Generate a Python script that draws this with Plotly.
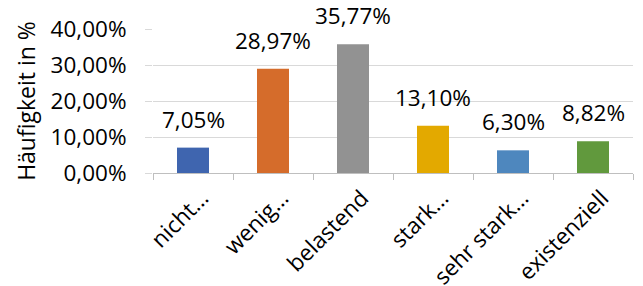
import plotly.graph_objects as go

categories = ["nicht…", "wenig…", "belastend", "stark…", "sehr stark…", "existenziell"]
values = [7.05, 28.97, 35.77, 13.10, 6.30, 8.82]
colors = ["#3F65AF", "#D56C2B", "#929292", "#E3A900", "#4E87BE", "#61993D"]
y_tickvals = [0, 10, 20, 30, 40]
y_ticktext = ["0,00%", "10,00%", "20,00%", "30,00%", "40,00%"]

labels = [f"{v:.2f}%".replace(".", ",") for v in values]

font_family = "Open Sans, Noto Sans, sans-serif"
fs = 22.5

fig = go.Figure(go.Bar(
    x=categories, y=values, marker_color=colors, marker_line_width=0,
    hoverinfo="skip",
))

for c, v, t in zip(categories, values, labels):
    fig.add_annotation(x=c, y=v, text=t, showarrow=False, yanchor="bottom",
                       yshift=11, font=dict(size=fs, color="#000000", family=font_family))

fig.update_layout(
    width=643, height=286,
    margin=dict(l=153, r=10, t=29, b=113),
    paper_bgcolor="white", plot_bgcolor="white",
    bargap=0.6, showlegend=False,
    font=dict(family=font_family, size=fs, color="#000000"),
)
fig.update_yaxes(
    range=[0, 40], tickvals=y_tickvals, ticktext=y_ticktext,
    showgrid=True, gridcolor="#D9D9D9", gridwidth=1,
    zeroline=False, showline=False, ticks="outside", ticklen=7, tickcolor="#D9D9D9",
    ticklabelstandoff=14, automargin=False,
    tickfont=dict(size=fs),
    title=dict(text="Häufigkeit in %", font=dict(size=23), standoff=8),
)
fig.update_xaxes(
    showline=True, linecolor="#BFBFBF", linewidth=1, automargin=False,
    tickangle=-45, ticks="outside", ticklen=6, tickcolor="#BFBFBF",
    tickson="boundaries", tickfont=dict(size=fs), ticklabelstandoff=2,
    ticklabelshift=9,
)

fig.write_html("out.html", config={"displayModeBar": False},
               post_script="document.body.style.margin='0';document.body.style.overflow='hidden';")
